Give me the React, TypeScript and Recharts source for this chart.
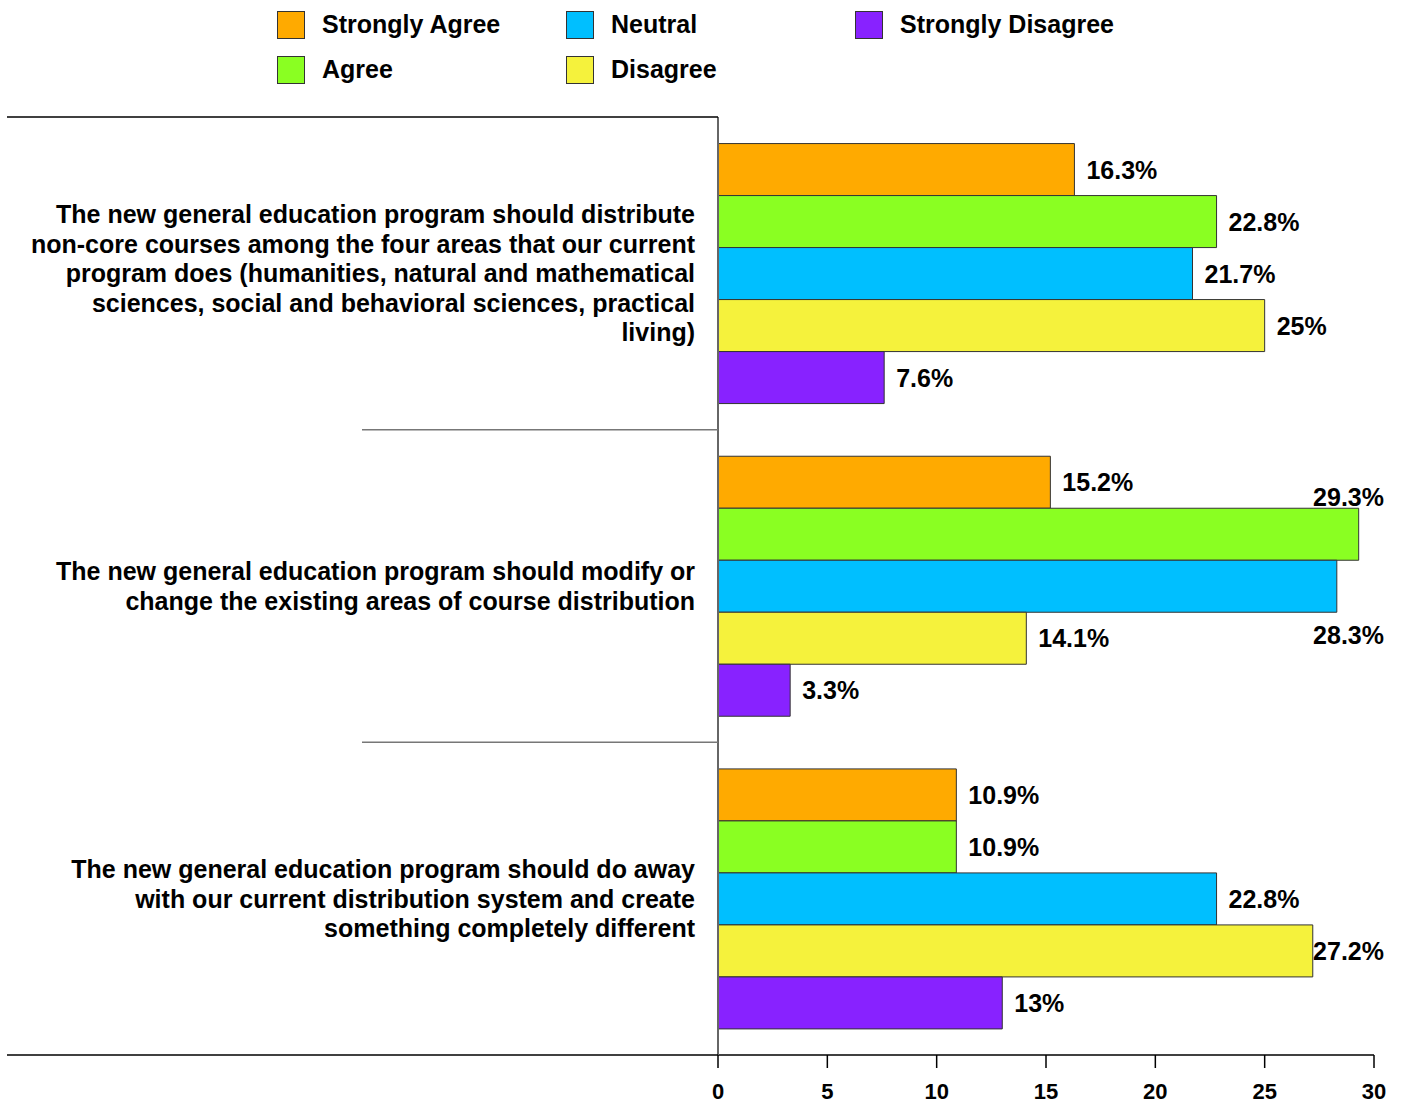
import { BarChart, Bar, XAxis, YAxis, LabelList } from "recharts"

// category labels, already broken into lines as in the source
const categories = [
  [
    "The new general education program should distribute",
    "non-core courses among the four areas that our current",
    "program does (humanities, natural and mathematical",
    "sciences, social and behavioral sciences, practical",
    "living)",
  ],
  [
    "The new general education program should modify or",
    "change the existing areas of course distribution",
  ],
  [
    "The new general education program should do away",
    "with our current distribution system and create",
    "something completely different",
  ],
]

const seriesNames = ["Strongly Agree", "Agree", "Neutral", "Disagree", "Strongly Disagree"]
const seriesKeys = ["sa", "a", "n", "d", "sd"]
const seriesColors = ["#FFAA00", "#8AFF22", "#00BFFF", "#F5F23C", "#8822FF"]

const stronglyAgree = [16.3, 15.2, 10.9]
const agree = [22.8, 29.3, 10.9]
const neutral = [21.7, 28.3, 22.8]
const disagree = [25, 14.1, 27.2]
const stronglyDisagree = [7.6, 3.3, 13]

const xTicks = [0, 5, 10, 15, 20, 25, 30]

const data = categories.map((_, i) => ({
  cat: String(i),
  sa: stronglyAgree[i],
  a: agree[i],
  n: neutral[i],
  d: disagree[i],
  sd: stronglyDisagree[i],
}))

const FONT = '"Liberation Sans", Arial, sans-serif'
const W = 1402
const H = 1103
const TOP = 117
const BOTTOM = 1055
const AXIS_X = 718
const RIGHT_LIMIT = 1384
const BAND = (BOTTOM - TOP) / categories.length

let ctx: CanvasRenderingContext2D | null = null
function measure(text: string) {
  if (!ctx) ctx = document.createElement("canvas").getContext("2d")
  if (!ctx) return text.length * 13
  ctx.font = `bold 25px ${FONT}`
  return ctx.measureText(text).width
}

// labels sit right of the bar; pushed left at the edge, and above/below if they'd cover the bar
const makeLabel = (seriesIndex: number) => (props: any) => {
  const { x, y, width, height, value } = props
  const end = x + width
  const text = `${value}%`
  const w = measure(text)
  let tx = end + 12
  let ty = y + height / 2
  let anchor: "start" | "end" = "start"
  if (tx + w > RIGHT_LIMIT) {
    tx = RIGHT_LIMIT
    anchor = "end"
    if (RIGHT_LIMIT - w < end - 6) {
      ty = seriesIndex < 2 ? y - 11 : y + height + 23
    }
  }
  return (
    <text x={tx} y={ty} textAnchor={anchor} dominantBaseline="central" fontFamily={FONT} fontWeight="bold" fontSize={25} fill="#000">
      {text}
    </text>
  )
}

const CategoryTick = (props: any) => {
  const { y, payload, index } = props
  const lines = categories[Number(payload.value)] || []
  const lh = 29.5
  const startY = y - ((lines.length - 1) * lh) / 2
  const last = index === categories.length - 1
  return (
    <g>
      <line x1={index === 0 ? 7 : 362} x2={AXIS_X} y1={y - BAND / 2} y2={y - BAND / 2} stroke={index === 0 ? "#000" : "#777"} strokeWidth={1.5} />
      {last && <line x1={7} x2={AXIS_X} y1={y + BAND / 2} y2={y + BAND / 2} stroke="#000" strokeWidth={1.5} />}
      {lines.map((ln, i) => (
        <text key={i} x={695} y={startY + i * lh} textAnchor="end" dominantBaseline="central" fontFamily={FONT} fontWeight="bold" fontSize={25} fill="#000">
          {ln}
        </text>
      ))}
    </g>
  )
}

function LegendBox() {
  return (
    <div
      style={{
        position: "absolute",
        left: 277,
        top: 2,
        display: "grid",
        gridTemplateColumns: "289px 289px 289px",
        gridTemplateRows: "45px 45px",
        gridAutoFlow: "column",
        fontFamily: FONT,
        fontWeight: "bold",
        fontSize: 25,
      }}
    >
      {seriesNames.map((name, i) => (
        <div key={name} style={{ display: "flex", alignItems: "center" }}>
          <span style={{ width: 26, height: 26, background: seriesColors[i], border: "1px solid #333", marginRight: 17, display: "inline-block" }} />
          <span>{name}</span>
        </div>
      ))}
    </div>
  )
}

export default function App() {
  return (
    <div style={{ position: "absolute", left: 0, top: 0, width: W, height: H, background: "#fff" }}>
      <LegendBox />
      <BarChart
        width={W}
        height={H}
        data={data}
        layout="vertical"
        margin={{ top: TOP, right: W - 1374, bottom: 0, left: 0 }}
        barCategoryGap="8.5%"
        barGap={0}
      >
        <XAxis
          type="number"
          domain={[0, 30]}
          ticks={xTicks}
          height={H - BOTTOM}
          tickSize={13}
          tickMargin={15}
          axisLine={{ stroke: "#000", strokeWidth: 1.5 }}
          tickLine={{ stroke: "#000", strokeWidth: 1.5 }}
          tick={{ fontFamily: '"Liberation Sans Narrow", "Liberation Sans", Arial, sans-serif', fontWeight: "bold", fontSize: 22, fill: "#000" }}
        />
        <YAxis
          type="category"
          dataKey="cat"
          width={AXIS_X}
          axisLine={{ stroke: "#666", strokeWidth: 2 }}
          tickLine={false}
          tick={<CategoryTick />}
          interval={0}
        />
        {seriesKeys.map((k, i) => (
          <Bar key={k} dataKey={k} name={seriesNames[i]} fill={seriesColors[i]} stroke="#333" strokeWidth={1} isAnimationActive={false}>
            <LabelList dataKey={k} content={makeLabel(i)} />
          </Bar>
        ))}
      </BarChart>
    </div>
  )
}
